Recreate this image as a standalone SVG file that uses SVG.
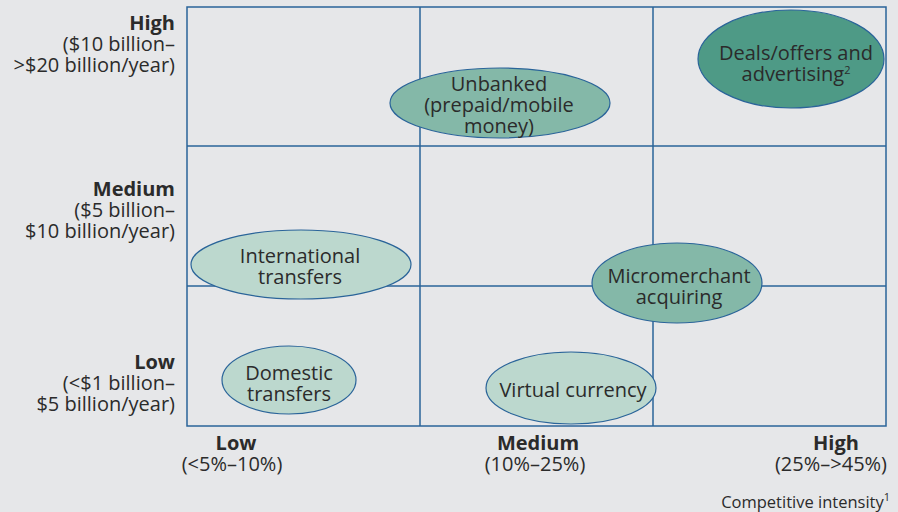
<svg xmlns="http://www.w3.org/2000/svg" width="898" height="512" viewBox="0 0 898 512">
<style>
text{font-family:"Open Sans","Noto Sans","Liberation Sans",sans-serif;font-size:20px;fill:#2b2b2b}
.b{font-weight:bold}
.r{text-anchor:end}
.c{text-anchor:middle}
.grid{stroke:#2a6499;stroke-width:1.5;fill:none}
.e{stroke:#2a6499;stroke-width:1.2}
.dark{fill:#4e9a86}
.mid{fill:#84b8a8}
.light{fill:#bcd8ce}
.sup{font-size:11px}
</style>
<rect width="898" height="512" fill="#e6e7e9"/>
<g id="connectors">
<rect class="grid" x="187" y="7" width="699" height="419"/>
<line class="grid" x1="420" y1="7" x2="420" y2="426"/>
<line class="grid" x1="653" y1="7" x2="653" y2="426"/>
<line class="grid" x1="187" y1="146" x2="886" y2="146"/>
<line class="grid" x1="187" y1="286" x2="886" y2="286"/>
</g>
<g id="y-labels">
<text class="r b" x="175" y="30">High</text>
<text class="r" x="175" y="51">($10 billion–</text>
<text class="r" x="175" y="72">&gt;$20 billion/year)</text>
<text class="r b" x="175" y="196">Medium</text>
<text class="r" x="175" y="217">($5 billion–</text>
<text class="r" x="175" y="238">$10 billion/year)</text>
<text class="r b" x="175" y="369">Low</text>
<text class="r" x="175" y="390">(&lt;$1 billion–</text>
<text class="r" x="175" y="411">$5 billion/year)</text>
</g>
<g id="x-labels">
<text class="c b" x="236" y="450">Low</text>
<text class="c" x="232" y="471">(&lt;5%–10%)</text>
<text class="c b" x="538" y="450">Medium</text>
<text class="c" x="535" y="471">(10%–25%)</text>
<text class="c b" x="836" y="450">High</text>
<text class="c" x="831" y="471">(25%–&gt;45%)</text>
<text class="r" x="890" y="508" style="font-size:16.5px">Competitive intensity<tspan class="sup" dy="-7">1</tspan></text>
</g>
<g id="deals">
<ellipse class="e dark" cx="791" cy="59" rx="93" ry="49"/>
<text class="c" x="796" y="60">Deals/offers and</text>
<text class="c" x="796" y="81">advertising<tspan class="sup" dy="-7">2</tspan></text>
</g>
<g id="unbanked">
<ellipse class="e mid" cx="500" cy="103" rx="110" ry="35"/>
<text class="c" x="499" y="91">Unbanked</text>
<text class="c" x="499" y="112">(prepaid/mobile</text>
<text class="c" x="499" y="133">money)</text>
</g>
<g id="international">
<ellipse class="e light" cx="301" cy="264.5" rx="110" ry="34.5"/>
<text class="c" x="300" y="263">International</text>
<text class="c" x="300" y="284">transfers</text>
</g>
<g id="micromerchant">
<ellipse class="e mid" cx="677" cy="283" rx="85" ry="40"/>
<text class="c" x="679" y="283">Micromerchant</text>
<text class="c" x="679" y="304">acquiring</text>
</g>
<g id="domestic">
<ellipse class="e light" cx="289" cy="380" rx="67" ry="34"/>
<text class="c" x="289" y="380">Domestic</text>
<text class="c" x="289" y="401">transfers</text>
</g>
<g id="virtual">
<ellipse class="e light" cx="571" cy="388" rx="85" ry="36"/>
<text class="c" x="573" y="397">Virtual currency</text>
</g>
</svg>
